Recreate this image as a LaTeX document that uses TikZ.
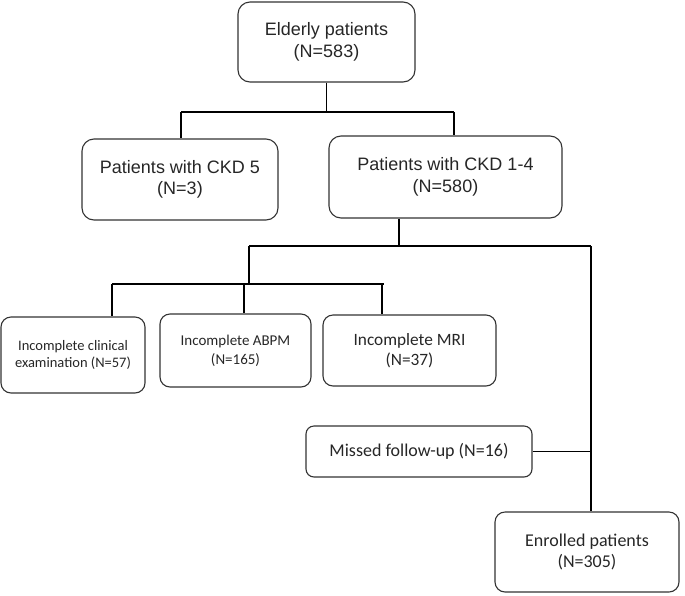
\documentclass[tikz,border=0pt]{standalone}
\usepackage{fontspec}
\setmainfont{Liberation Sans}
\newfontfamily\calibri{Carlito}
\usetikzlibrary{positioning,calc}
\tikzset{
  box/.style={draw=black!80, line width=1.1pt, rounded corners=12pt, align=center, text=black!85, inner sep=0pt},
  arialbox/.style={box, font=\fontsize{18}{21.5}\selectfont},
  calbox/.style={box, rounded corners=10pt, font=\calibri\fontsize{18}{21.5}\selectfont},
  link/.style={line width=1.6pt, black}
}

\begin{document}
\begin{tikzpicture}[x=1pt,y=-1pt]
  \useasboundingbox (0,0) rectangle (685,595);

  \node[arialbox, minimum width=177pt, minimum height=80pt] (elderly) at (326.5,42) {Elderly patients\\(N=583)};
  \node[arialbox, minimum width=196pt, minimum height=81pt] (ckdfive) at (180,179.5) {Patients with CKD 5\\(N=3)};
  \node[arialbox, minimum width=233pt, minimum height=82pt] (ckdlow) at (445.5,177) {Patients with CKD 1-4\\(N=580)};

  \node[calbox, minimum width=144pt, minimum height=76pt, font=\calibri\fontsize{14.5}{17}\selectfont] (clin) at (73,355) {Incomplete clinical\\examination (N=57)};
  \node[calbox, minimum width=151pt, minimum height=73pt, font=\calibri\fontsize{15}{19}\selectfont] (abpm) at (235.5,350.5) {Incomplete ABPM\\(N=165)};
  \node[calbox, minimum width=173pt, minimum height=71pt, font=\calibri\fontsize{17.3}{20}\selectfont] (mri) at (409.5,350.5) {Incomplete MRI\\(N=37)};
  \node[calbox, rounded corners=8pt, minimum width=226pt, minimum height=51pt] (missed) at (419,451.5) {Missed follow-up (N=16)};
  \node[calbox, minimum width=184pt, minimum height=80pt] (enrolled) at (587,552) {Enrolled patients\\(N=305)};

  \coordinate (topl) at (181,112);
  \coordinate (topr) at (454,112);
  \coordinate (midl) at (249,246);
  \coordinate (midr) at (591,246);
  \coordinate (lowl) at (112,284);
  \coordinate (lowr) at (384,284);

  \draw[link] (elderly.south) -- (elderly.south |- topl);
  \draw[link] (topl) -- (topr);
  \draw[link] (topl) -- (topl |- ckdfive.north);
  \draw[link] (topr) -- (topr |- ckdlow.north);

  \draw[link] (ckdlow.south -| 399,0) -- (399,0 |- midl);
  \draw[link] (midl) -- (midr);
  \draw[link] (midl) -- (midl |- lowl);
  \draw[link] (lowl) -- (lowr);
  \foreach \n/\x in {clin/112, abpm/244, mri/382}
    \draw[link] (\x,284) -- (\x,0 |- \n.north);

  \draw[link] (midr) -- (midr |- enrolled.north);
  \draw[link] (missed.east) -- (missed.east -| midr);
\end{tikzpicture}
\end{document}
